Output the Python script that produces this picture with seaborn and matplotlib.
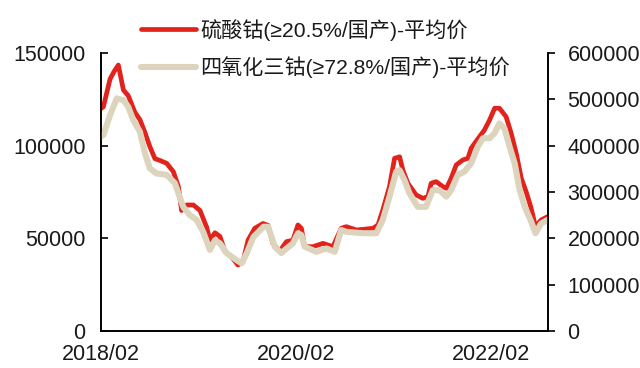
import matplotlib
matplotlib.use("Agg")
import matplotlib.pyplot as plt
import matplotlib.dates as mdates
import seaborn as sns
import pandas as pd

# 硫酸钴 (left axis)
cs_dates = ["2018-02-01", "2018-02-10", "2018-03-07", "2018-03-22", "2018-04-07", "2018-04-26",
            "2018-05-14", "2018-06-08", "2018-06-27", "2018-07-16", "2018-08-03", "2018-08-22",
            "2018-09-10", "2018-10-05", "2018-10-30", "2018-11-18", "2018-11-30", "2018-12-19",
            "2019-01-13", "2019-02-07", "2019-03-04", "2019-03-16", "2019-04-04", "2019-04-23",
            "2019-05-11", "2019-06-05", "2019-06-29", "2019-07-18", "2019-08-06", "2019-08-31",
            "2019-10-01", "2019-10-20", "2019-11-07", "2019-12-02", "2019-12-28", "2020-01-21",
            "2020-02-09", "2020-02-22", "2020-03-05", "2020-04-05", "2020-05-13", "2020-06-19",
            "2020-07-20", "2020-08-08", "2020-09-15", "2020-11-16", "2020-12-05", "2020-12-23",
            "2021-01-17", "2021-02-05", "2021-02-24", "2021-03-08", "2021-03-27", "2021-04-27",
            "2021-05-22", "2021-06-10", "2021-06-22", "2021-07-11", "2021-08-05", "2021-08-18",
            "2021-09-05", "2021-09-24", "2021-10-19", "2021-11-07", "2021-11-19", "2021-12-20",
            "2022-01-08", "2022-01-27", "2022-02-15", "2022-03-05", "2022-03-30", "2022-04-18",
            "2022-05-07", "2022-05-26", "2022-06-13", "2022-07-02", "2022-07-18", "2022-08-08",
            "2022-09-02"]
cs_values = [120000, 121000, 136000, 140000, 143500, 130000,
             127000, 118000, 114000, 107000, 99500, 93000,
             92000, 90500, 86000, 78000, 65000, 68000,
             68000, 65000, 56000, 49000, 53000, 51000,
             43000, 40000, 35600, 37400, 49000, 55400,
             58000, 57000, 47300, 43000, 48200, 49000,
             57200, 55400, 45500, 45500, 47300, 45500,
             55400, 56300, 54500, 55400, 57200, 65300,
             77900, 93200, 94000, 86900, 79700, 73400,
             71600, 72500, 79700, 80600, 77900, 77000,
             82400, 89600, 92300, 93200, 98600, 104800,
             108500, 113800, 120200, 120200, 115600, 106700,
             95900, 82400, 75200, 66200, 56300, 59900,
             61700]

# 四氧化三钴 (right axis)
co_dates = ["2018-02-01", "2018-02-10", "2018-03-07", "2018-04-01", "2018-04-26", "2018-05-14",
            "2018-06-02", "2018-06-27", "2018-07-16", "2018-08-03", "2018-08-28", "2018-10-05",
            "2018-11-05", "2018-11-18", "2018-12-06", "2018-12-31", "2019-01-25", "2019-02-19",
            "2019-03-16", "2019-04-04", "2019-04-23", "2019-05-18", "2019-06-24", "2019-07-13",
            "2019-08-01", "2019-08-26", "2019-10-03", "2019-10-20", "2019-11-14", "2019-12-09",
            "2019-12-28", "2020-01-21", "2020-02-09", "2020-02-22", "2020-03-05", "2020-04-18",
            "2020-05-26", "2020-06-26", "2020-07-20", "2020-08-08", "2020-10-10", "2020-11-29",
            "2020-12-23", "2021-01-17", "2021-02-11", "2021-02-24", "2021-03-14", "2021-04-02",
            "2021-05-03", "2021-06-03", "2021-06-28", "2021-07-23", "2021-08-18", "2021-09-05",
            "2021-09-30", "2021-10-25", "2021-11-19", "2021-12-14", "2022-01-02", "2022-01-27",
            "2022-02-15", "2022-03-05", "2022-03-24", "2022-04-12", "2022-05-01", "2022-05-20",
            "2022-06-08", "2022-07-02", "2022-07-18", "2022-08-08", "2022-09-02"]
co_values = [420000, 423000, 466000, 502000, 498000, 484000,
             455000, 430000, 383000, 351000, 340000, 337000,
             319000, 297000, 268000, 250000, 240000, 214000,
             175000, 196000, 189000, 168000, 153000, 146000,
             168000, 203000, 225000, 225000, 182000, 168000,
             178000, 189000, 211000, 207000, 182000, 171000,
             178000, 171000, 218000, 214000, 211000, 211000,
             240000, 290000, 344000, 347000, 326000, 297000,
             268000, 268000, 304000, 304000, 290000, 304000,
             337000, 344000, 362000, 398000, 416000, 416000,
             427000, 448000, 437000, 398000, 362000, 304000,
             268000, 236000, 211000, 232000, 240000]

label_cs = "硫酸钴(≥20.5%/国产)-平均价"
label_co = "四氧化三钴(≥72.8%/国产)-平均价"
left_ticks = [0, 50000, 100000, 150000]
right_ticks = [0, 100000, 200000, 300000, 400000, 500000, 600000]
x_ticks = ["2018-02-01", "2020-02-01", "2022-02-01"]

sns.set_theme(style="white")
plt.rcParams["font.family"] = ["Liberation Sans", "Noto Sans CJK SC", "DejaVu Sans"]
plt.rcParams["axes.unicode_minus"] = False

df_cs = pd.DataFrame({"date": pd.to_datetime(cs_dates), "value": cs_values})
df_co = pd.DataFrame({"date": pd.to_datetime(co_dates), "value": co_values})

fig = plt.figure(figsize=(6.4, 3.68), dpi=100)
ax = fig.add_axes([101 / 640, 1 - 331 / 368, 447 / 640, 278 / 368])
ax2 = ax.twinx()

red = "#E2231C"
beige = "#DDD4BE"

sns.lineplot(data=df_cs, x="date", y="value", ax=ax, color=red, linewidth=3.4, label=label_cs, legend=False)
sns.lineplot(data=df_co, x="date", y="value", ax=ax2, color=beige, linewidth=4.4, label=label_co, legend=False)

ax.set_zorder(1)
ax.patch.set_visible(False)
ax2.set_zorder(2)

ax.set_xlim(pd.Timestamp("2018-02-01"), pd.Timestamp("2022-09-03"))
ax.set_ylim(0, 150000)
ax2.set_ylim(0, 600000)
ax.set_yticks(left_ticks)
ax2.set_yticks(right_ticks)
ax.set_xticks(pd.to_datetime(x_ticks))
ax.xaxis.set_major_formatter(mdates.DateFormatter("%Y/%m"))
ax.set_xlabel("")
ax.set_ylabel("")
ax2.set_ylabel("")

fs = 15.5
for a in (ax, ax2):
    for s in a.spines.values():
        s.set_color("black")
        s.set_linewidth(1.2)
    a.spines["top"].set_visible(False)
    a.grid(False)
ax.tick_params(axis="y", direction="in", length=5, width=1.2, labelsize=fs, colors="black", pad=11)
ax.tick_params(axis="x", direction="out", length=5, width=1.2, labelsize=fs, colors="black", pad=4)
ax2.tick_params(axis="y", direction="out", length=5, width=1.2, labelsize=fs, colors="black", pad=9)
ax.tick_params(axis="y", labelcolor="#1a1a1a")
ax.tick_params(axis="x", labelcolor="#1a1a1a")
ax2.tick_params(axis="y", labelcolor="#1a1a1a")

h1, l1 = ax.get_legend_handles_labels()
h2, l2 = ax2.get_legend_handles_labels()
for h in h1 + h2:
    h.set_solid_capstyle("round")
leg = fig.legend(h1 + h2, l1 + l2, loc="upper left", bbox_to_anchor=(141 / 640, 1 - 19 / 368),
                 frameon=False, fontsize=15.2, handlelength=2.6, handletextpad=0.2, labelspacing=0.75,
                 borderaxespad=0, borderpad=0)
for t in leg.get_texts():
    t.set_color("#1a1a1a")

fig.savefig("out.png", dpi=100)
